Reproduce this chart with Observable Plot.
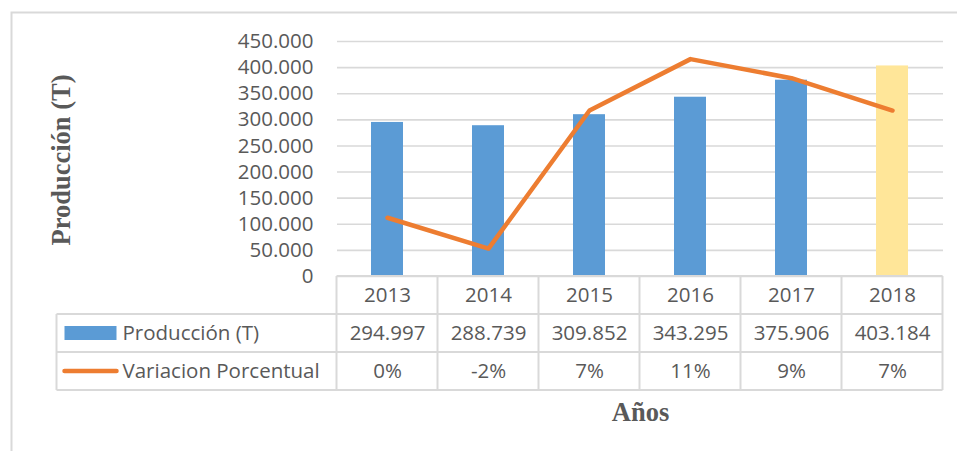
<!DOCTYPE html>
<html>
<head>
<meta charset="utf-8">
<script src="https://cdn.jsdelivr.net/npm/d3@7"></script>
<script src="https://cdn.jsdelivr.net/npm/@observablehq/plot@0.6"></script>
<style>
  html, body { margin: 0; padding: 0; background: #fff; }
  #chart { width: 957px; height: 451px; overflow: hidden; }
</style>
</head>
<body>
<div id="chart"></div>
<script>
// ---- data ----
const years = ["2013", "2014", "2015", "2016", "2017", "2018"];
const produccion = [294997, 288739, 309852, 343295, 375906, 403184];
const variacion = [0, -2.1, 7.3, 10.8, 9.5, 7.3];            // % (line)
const variacionLabels = ["0%", "-2%", "7%", "11%", "9%", "7%"];
const yTicks = [0, 50000, 100000, 150000, 200000, 250000, 300000, 350000, 400000, 450000];
const pctDomain = [-4, 12];                                  // hidden secondary axis
const seriesNames = ["Producción (T)", "Variacion Porcentual"];

// ---- helpers ----
const locale = d3.formatLocale({decimal: ",", thousands: ".", grouping: [3], currency: ["", ""]});
const fmt = locale.format(",");
const yDomain = [0, 450000];
const pctToY = d3.scaleLinear().domain(pctDomain).range(yDomain);

const table = years.map((year, i) => ({year, prod: produccion[i], pct: variacion[i], pctLabel: variacionLabels[i]}));

const BLUE = "#5B9BD5", YELLOW = "#FFE699", ORANGE = "#ED7D31", GRID = "#D9D9D9", TXT = "#595959";
const serif = "'Liberation Serif', 'Times New Roman', serif";
const cell = {frameAnchor: "bottom", lineAnchor: "middle", textAnchor: "middle", fill: TXT};

const chart = Plot.plot({
  width: 957,
  height: 451,
  marginLeft: 337,
  marginRight: 14,
  marginTop: 41,
  marginBottom: 175,
  style: {fontSize: "20.5px", fontFamily: "'Open Sans', sans-serif", color: TXT, background: "white", overflow: "visible"},
  x: {domain: years, paddingInner: 0.68, paddingOuter: 0.34, axis: null},
  y: {domain: yDomain, axis: null},
  marks: [
    Plot.ruleY(yTicks, {stroke: GRID, strokeWidth: 1.6}),
    Plot.text(yTicks, {y: d => d, text: d => fmt(d), frameAnchor: "left", dx: -24, textAnchor: "end", lineAnchor: "middle", fill: TXT}),
    Plot.barY(table, {x: "year", y: "prod", fill: d => d.year === "2018" ? YELLOW : BLUE}),
    Plot.line(table, {x: "year", y: d => pctToY(d.pct), stroke: ORANGE, strokeWidth: 4.5, strokeLinecap: "round", strokeLinejoin: "round"}),
    // data table rows
    Plot.text(table, {x: "year", text: "year", dy: 19, ...cell}),
    Plot.text(table, {x: "year", text: d => fmt(d.prod), dy: 57, ...cell}),
    Plot.text(table, {x: "year", text: "pctLabel", dy: 95, ...cell}),
    Plot.text([seriesNames[0]], {frameAnchor: "bottom-left", dx: -215, dy: 57, textAnchor: "start", lineAnchor: "middle", fill: TXT}),
    Plot.text([seriesNames[1]], {frameAnchor: "bottom-left", dx: -215, dy: 95, textAnchor: "start", lineAnchor: "middle", fill: TXT}),
    // axis titles
    Plot.text(["Producción (T)"], {frameAnchor: "left", dx: -276, dy: 1, rotate: -90, textAnchor: "middle", lineAnchor: "middle", fontFamily: serif, fontWeight: "bold", fontSize: 26.5, fill: TXT}),
    Plot.text(["Años"], {dy: 136, ...cell, fontFamily: serif, fontWeight: "bold", fontSize: 26.5})
  ]
});

document.getElementById("chart").appendChild(chart);

// ---- table grid, legend swatches and outer frame, positioned from Plot's scales ----
const svg = d3.select(chart);
const xs = chart.scale("x"), ys = chart.scale("y");
const centers = years.map(y => xs.apply(y) + xs.bandwidth / 2);
const step = xs.step;
const bounds = [centers[0] - step / 2, ...centers.map(c => c + step / 2)];
const y0 = ys.apply(0);
const rowH = 38;
const tableLeft = bounds[0] - 280;
const g = svg.append("g").attr("stroke", GRID).attr("stroke-width", 2).attr("fill", "none");
// horizontal lines
g.append("line").attr("x1", bounds[0]).attr("x2", bounds[bounds.length - 1]).attr("y1", y0).attr("y2", y0);
for (let r = 1; r <= 3; r++) {
  g.append("line").attr("x1", tableLeft).attr("x2", bounds[bounds.length - 1]).attr("y1", y0 + r * rowH).attr("y2", y0 + r * rowH);
}
// vertical lines
bounds.forEach(b => g.append("line").attr("x1", b).attr("x2", b).attr("y1", y0).attr("y2", y0 + 3 * rowH));
g.append("line").attr("x1", tableLeft).attr("x2", tableLeft).attr("y1", y0 + rowH).attr("y2", y0 + 3 * rowH);
// legend swatches
svg.append("rect").attr("x", tableLeft + 8).attr("y", y0 + rowH * 1.5 - 7).attr("width", 52).attr("height", 14).attr("fill", BLUE);
svg.append("line").attr("x1", tableLeft + 8).attr("x2", tableLeft + 60).attr("y1", y0 + rowH * 2.5).attr("y2", y0 + rowH * 2.5)
  .attr("stroke", ORANGE).attr("stroke-width", 4.5).attr("stroke-linecap", "round");
// outer chart-area frame (cropped at right/bottom)
svg.append("path").attr("d", "M11.5,451V12.5H957").attr("stroke", GRID).attr("stroke-width", 2).attr("fill", "none");
</script>
</body>
</html>
